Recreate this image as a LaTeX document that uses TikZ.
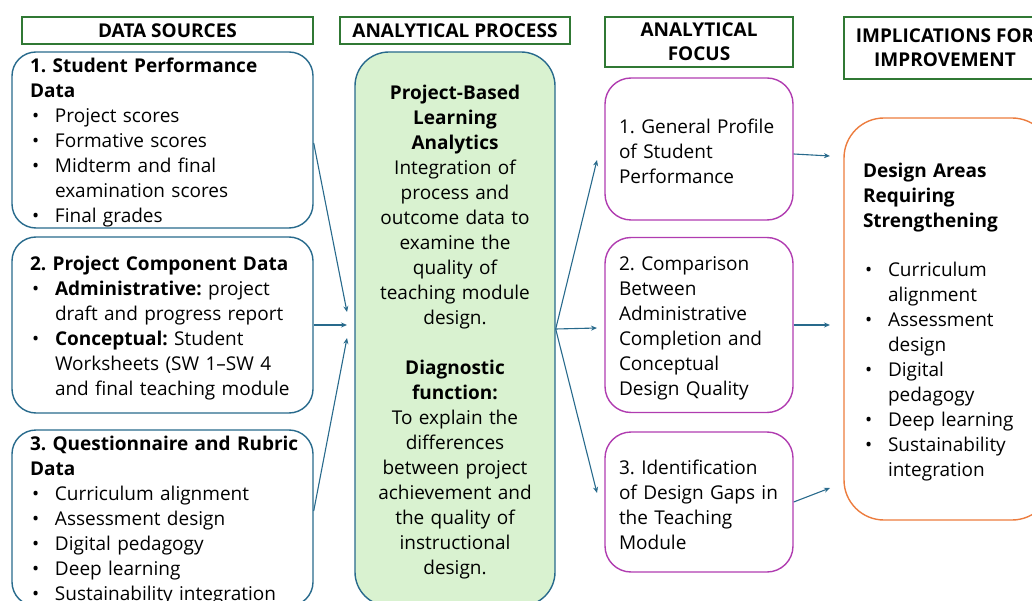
\documentclass[tikz,border=0pt]{standalone}
\usepackage{fontspec}
\setmainfont{Open Sans}
\usetikzlibrary{arrows.meta,positioning}

\definecolor{srcblue}{RGB}{40,106,140}
\definecolor{headgreen}{RGB}{48,120,52}
\definecolor{procfill}{RGB}{217,242,208}
\definecolor{focmagenta}{RGB}{176,60,176}
\definecolor{imporange}{RGB}{236,124,62}

% bullet and hanging indent for list lines
\newcommand{\bul}{\makebox[25pt][l]{\hspace{2pt}\textbullet}}
\newcommand{\hang}{\hspace*{25pt}}
\frenchspacing

\begin{document}
\begin{tikzpicture}[x=1pt,y=-1pt,
  every node/.style={font=\fontsize{19}{25}\selectfont},
  head/.style={draw=headgreen,line width=1.6pt,align=center,inner sep=0pt,
    font=\fontsize{19}{24}\selectfont\bfseries},
  textbox/.style={inner ysep=0pt,execute at begin node={\rule{0pt}{20pt}}},
  srcbox/.style={textbox,draw=srcblue,line width=1.4pt,rounded corners=24pt,
    text width=265pt,inner xsep=18pt,align=left},
  procbox/.style={textbox,draw=srcblue,fill=procfill,line width=1.4pt,rounded corners=34pt,
    text width=170pt,inner xsep=15pt,align=center},
  focbox/.style={textbox,draw=focmagenta,line width=1.4pt,rounded corners=26pt,
    text width=160pt,inner xsep=14pt,align=left},
  impbox/.style={textbox,draw=imporange,line width=1.4pt,rounded corners=40pt,
    text width=170pt,inner xsep=19pt,align=left},
  flow/.style={-{Stealth[length=6pt,width=5pt]},draw=srcblue,line width=1.1pt}]

\useasboundingbox (0,0) rectangle (1032,601);
\clip (0,0) rectangle (1032,601);

% column headings
\node[head,minimum width=291pt,minimum height=27pt] (h1) at (167.5,30.5) {DATA SOURCES};
\node[head,minimum width=230pt,minimum height=27pt] (h2) at (455,30.5) {ANALYTICAL PROCESS};
\node[head,minimum width=188pt,minimum height=50pt] (h3) at (699,42) {ANALYTICAL\\FOCUS};
\node[head,minimum width=202pt,minimum height=62pt] (h4) at (945,48) {IMPLICATIONS FOR\\IMPROVEMENT};

% data sources
\node[srcbox,minimum height=176pt] (src1) at (162.5,140) {%
\textbf{1. Student Performance}\\
\textbf{Data}\\
\bul Project scores\\
\bul Formative scores\\
\bul Midterm and final\\
\hang examination scores\\
\bul Final grades};

\node[srcbox,minimum height=176pt] (src2) at (162.5,325) {%
\mbox{\textbf{2. Project Component Data}}\\
\bul\textbf{Administrative:} project\\
\hang draft and progress report\\
\bul\textbf{Conceptual:} Student\\
\hang Worksheets (SW 1–SW 4\\
\hang and final teaching module};

\node[srcbox,minimum height=176pt] (src3) at (162.5,518) {%
\mbox{\textbf{3. Questionnaire and Rubric}}\\
\textbf{Data}\\
\bul Curriculum alignment\\
\bul Assessment design\\
\bul Digital pedagogy\\
\bul Deep learning\\
\bul Sustainability integration};

% analytical process
\node[procbox,minimum height=554pt] (proc) at (455,329) {%
\textbf{Project-Based}\\
\textbf{Learning}\\
\textbf{Analytics}\\
Integration of\\
process and\\
outcome data to\\
examine the\\
quality of\\
teaching module\\
design.\\[25pt]
\textbf{Diagnostic}\\
\textbf{function:}\\
To explain the\\
differences\\
between project\\
achievement and\\
the quality of\\
instructional\\
design.};

% analytical focus
\node[focbox,minimum height=142pt] (foc1) at (699,149) {%
1. General Profile\\
of Student\\
Performance};

\node[focbox,minimum height=175pt] (foc2) at (699,325) {%
2. Comparison\\
Between\\
Administrative\\
Completion and\\
Conceptual\\
Design Quality};

\node[focbox,minimum height=140pt] (foc3) at (699,502) {%
3. Identification\\
of Design Gaps in\\
the Teaching\\
Module};

% implications
\node[impbox,minimum height=402pt] (imp) at (948,319) {%
\textbf{Design Areas}\\
\textbf{Requiring}\\
\textbf{Strengthening}\\[24pt]
\bul Curriculum\\
\hang alignment\\
\bul Assessment\\
\hang design\\
\bul Digital\\
\hang pedagogy\\
\bul Deep learning\\
\bul Sustainability\\
\hang integration};

% arrow ends
\coordinate (in1) at (347,312);
\coordinate (in2) at (347,325);
\coordinate (in3) at (347,338);
\coordinate (out1) at (597,160);
\coordinate (out2) at (597,328);
\coordinate (out3) at (597,493);
\coordinate (im1) at (830,156);
\coordinate (im2) at (830,325);
\coordinate (im3) at (830,488);

\draw[flow] ([yshift=-3pt]src1.east) -- (in1);
\draw[flow] (src2.east) -- (in2);
\draw[flow] ([yshift=7pt]src3.east) -- (in3);

\draw[flow] (proc.east) -- (out1);
\draw[flow] (proc.east) -- (out2);
\draw[flow] (proc.east) -- (out3);

\draw[flow] ([yshift=-5pt]foc1.east) -- (im1);
\draw[flow] (foc2.east) -- (im2);
\draw[flow] (foc3.east) -- (im3);

\end{tikzpicture}
\end{document}
